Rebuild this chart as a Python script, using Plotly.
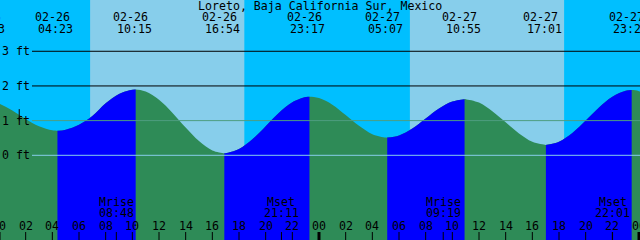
import plotly.graph_objects as go
from datetime import datetime

title = "Loreto, Baja California Sur, Mexico"
origin = "02-26 00:00"

# hourly tide height readings (ft), hour 0..49 from 02-26 00:00
curve_hours = list(range(0, 50))
curve_ft = [1.49, 1.29, 1.05, 0.84, 0.72,
            0.74, 0.88, 1.13, 1.50, 1.77, 1.89,
            1.84, 1.60, 1.23, 0.80, 0.41, 0.14,
            0.06, 0.18, 0.46, 0.84, 1.23, 1.53, 1.68,
            1.65, 1.46, 1.16, 0.85, 0.61, 0.51,
            0.57, 0.77, 1.06, 1.35, 1.55,
            1.62, 1.52, 1.27, 0.95, 0.63, 0.39, 0.30,
            0.39, 0.64, 1.00, 1.38, 1.69, 1.86, 1.85, 1.67]

# high / low tide events
event_stamp = ["02-25 23:13", "02-26 04:23", "02-26 10:15", "02-26 16:54", "02-26 23:17",
               "02-27 05:07", "02-27 10:55", "02-27 17:01", "02-27 23:27"]
event_ft = [1.56, 0.71, 1.90, 0.06, 1.69, 0.51, 1.62, 0.30, 1.88]
event_kind = ["H", "L", "H", "L", "H", "L", "H", "L", "H"]

sunrise = ["02-26 06:50", "02-27 06:49"]
sunset = ["02-26 18:24", "02-27 18:23"]

moon_label = ["Mrise", "Mset", "Mrise", "Mset"]
moon_stamp = ["02-26 08:48", "02-26 21:11", "02-27 09:19", "02-27 22:01"]

now_stamp = "02-26 01:31"
now_ft = 1.17

depth_levels = [3, 2, 1, 0]
depth_labels = ["3 ft", "2 ft", "1 ft", "0 ft"]
depth_colors = ["black", "black", "#4E9E80", "#87CEEB"]

hour_ticks = list(range(0, 49, 2))
hour_labels = ["%02d" % (h % 24) for h in hour_ticks]

# ---------------------------------------------------------------
FONT = "DejaVu Sans Mono"
FS = 11.6
W, H = 640, 240
X_RANGE = [0.075, 48.075]
Y_RANGE = [-2.443, 4.479]
Y_BOT = -3.0

SKY_NIGHT = "#00BFFF"
SKY_DAY = "#87CEEB"
EBB = "#2E8B57"
FLOOD = "#0000FF"


def hrs(stamp):
    t0 = datetime.strptime("2024-" + origin, "%Y-%m-%d %H:%M")
    t = datetime.strptime("2024-" + stamp, "%Y-%m-%d %H:%M")
    return (t - t0).total_seconds() / 3600.0


def xpaper(h):
    # position along the x axis as a fraction of the plot width
    return (h - X_RANGE[0]) / (X_RANGE[1] - X_RANGE[0])


ev_h = [hrs(s) for s in event_stamp]

# merged curve points (hourly readings + extremes)
pts = sorted(list(zip(curve_hours, curve_ft)) + list(zip(ev_h, event_ft)))

fig = go.Figure()

# whole water area in ebb colour
fig.add_trace(go.Scatter(x=[pts[0][0], pts[-1][0]], y=[Y_BOT, Y_BOT], mode="lines",
                         line=dict(width=0), hoverinfo="skip"))
fig.add_trace(go.Scatter(x=[p[0] for p in pts], y=[p[1] for p in pts], mode="lines",
                         line=dict(width=0, shape="spline", color=EBB),
                         fill="tonexty", fillcolor=EBB, hoverinfo="skip"))

# flood segments (low -> high) in blue
for i in range(len(ev_h) - 1):
    if event_kind[i] == "L" and event_kind[i + 1] == "H":
        a, b = ev_h[i], ev_h[i + 1]
        seg = [p for p in pts if a <= p[0] <= b]
        fig.add_trace(go.Scatter(x=[a, b], y=[Y_BOT, Y_BOT], mode="lines",
                                 line=dict(width=0), hoverinfo="skip"))
        fig.add_trace(go.Scatter(x=[p[0] for p in seg], y=[p[1] for p in seg], mode="lines",
                                 line=dict(width=0, shape="spline", color=FLOOD),
                                 fill="tonexty", fillcolor=FLOOD, hoverinfo="skip"))

# now marker
fig.add_trace(go.Scatter(x=[hrs(now_stamp)], y=[now_ft], mode="markers",
                         marker=dict(symbol="line-ns", size=8, color="black",
                                     line=dict(width=1, color="black")),
                         hoverinfo="skip"))

shapes = []
# daylight columns
for sr, ss in zip(sunrise, sunset):
    shapes.append(dict(type="rect", xref="x", yref="paper", x0=hrs(sr), x1=hrs(ss),
                       y0=0, y1=1, fillcolor=SKY_DAY, line=dict(width=0), layer="below"))

# depth lines
for lv, col in zip(depth_levels, depth_colors):
    shapes.append(dict(type="line", xref="paper", yref="y", x0=32 / W, x1=1, y0=lv, y1=lv,
                       line=dict(color=col, width=1), layer="above"))

# hour ticks
for h in hour_ticks:
    wdt = 3 if h % 24 == 0 else 1
    shapes.append(dict(type="line", xref="x", yref="paper", x0=h, x1=h, y0=0, y1=8 / H,
                       line=dict(color="black", width=wdt), layer="above"))
# moon ticks
for s in moon_stamp:
    shapes.append(dict(type="line", xref="x", yref="paper", x0=hrs(s), x1=hrs(s), y0=0, y1=8 / H,
                       line=dict(color="black", width=1), layer="above"))

ann = []


def txt(text, x, ypx, xshift=0, xanchor="center"):
    ann.append(dict(text=text, x=x, xref="paper", y=1 - ypx / H, yref="paper",
                    xanchor=xanchor, yanchor="middle", xshift=xshift, showarrow=False,
                    font=dict(family=FONT, size=FS, color="black")))


txt(title, 0.5, 6)
for s in event_stamp:
    d, t = s.split(" ")
    txt(d, xpaper(hrs(s)), 17, xshift=-5)
    txt(t, xpaper(hrs(s)), 29, xshift=-1.5)
for lab, s in zip(moon_label, moon_stamp):
    txt(lab, xpaper(hrs(s)), 202)
    txt(s.split(" ")[1], xpaper(hrs(s)), 213)
for h, lab in zip(hour_ticks, hour_labels):
    txt(lab, xpaper(h), 226)
for lv, lab in zip(depth_levels, depth_labels):
    ann.append(dict(text=lab, x=0, xref="paper", y=lv, yref="y", xanchor="left",
                    yanchor="middle", xshift=0, showarrow=False,
                    font=dict(family=FONT, size=FS, color="black")))

fig.update_layout(
    width=W, height=H, margin=dict(l=0, r=0, t=0, b=0),
    paper_bgcolor=SKY_NIGHT, plot_bgcolor=SKY_NIGHT,
    showlegend=False,
    xaxis=dict(range=X_RANGE, visible=False, fixedrange=True),
    yaxis=dict(range=Y_RANGE, visible=False, fixedrange=True),
    shapes=shapes, annotations=ann,
)

fig.write_html("out.html", config={"displayModeBar": False})
